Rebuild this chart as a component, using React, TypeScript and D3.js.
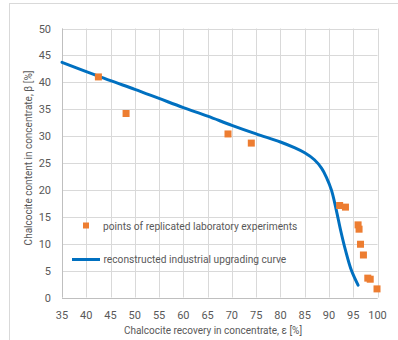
import { useEffect, useRef } from 'react'
import * as d3 from 'd3'

// laboratory experiment points (recovery %, content %)
const pointRecovery = [42.5, 48.2, 69.2, 74.0, 92.2, 93.4, 96.0, 96.2, 96.5, 97.1, 98.0, 98.5, 99.9]
const pointContent = [41.0, 34.2, 30.4, 28.7, 17.1, 16.8, 13.5, 12.7, 9.9, 7.9, 3.6, 3.4, 1.6]

// reconstructed industrial upgrading curve
const curveRecovery = [35, 40, 45, 50, 55, 60, 65, 70, 75, 80, 83, 85, 87, 88.5, 89.5, 90.5, 91.5, 92.4, 93.4, 94.6, 96.0]
const curveContent = [43.7, 42.0, 40.3, 38.7, 37.0, 35.3, 33.7, 32.0, 30.4, 28.9, 27.8, 26.9, 25.6, 24.0, 22.3, 20.0, 16.3, 12.5, 8.8, 5.1, 2.3]

const xTicks = [35, 40, 45, 50, 55, 60, 65, 70, 75, 80, 85, 90, 95, 100]
const yTicks = [0, 5, 10, 15, 20, 25, 30, 35, 40, 45, 50]

const legendLabels = ['points of replicated laboratory experiments', 'reconstructed industrial upgrading curve']

export default function App() {
  const svgRef = useRef<SVGSVGElement>(null)
  const width = 398
  const height = 340

  useEffect(() => {
    if (!svgRef.current) return
    const svg = d3.select(svgRef.current)
    svg.selectAll('*').remove()

    const font = 'Roboto, "Open Sans", sans-serif'
    const textColor = '#595959'
    const orange = '#ed7d31'
    const blue = '#0070c0'

    const x = d3.scaleLinear().domain([35, 100]).range([62, 377.5])
    const y = d3.scaleLinear().domain([0, 50]).range([297.5, 28.5])

    // chart frame
    svg.append('rect')
      .attr('x', 9.5).attr('y', 3.5)
      .attr('width', 420).attr('height', 360)
      .attr('fill', '#fff')
      .attr('stroke', '#d9d9d9')

    // gridlines
    const grid = svg.append('g').attr('stroke', '#d9d9d9').attr('stroke-width', 1)
    xTicks.forEach(t => {
      grid.append('line')
        .attr('x1', Math.round(x(t)) + 0.5).attr('x2', Math.round(x(t)) + 0.5)
        .attr('y1', y(50)).attr('y2', y(0))
    })
    yTicks.forEach(t => {
      grid.append('line')
        .attr('x1', x(35)).attr('x2', x(100))
        .attr('y1', Math.round(y(t)) + 0.5).attr('y2', Math.round(y(t)) + 0.5)
    })

    // axis lines
    svg.append('line')
      .attr('x1', Math.round(x(35)) + 0.5).attr('x2', Math.round(x(35)) + 0.5)
      .attr('y1', y(50)).attr('y2', y(0))
      .attr('stroke', '#bfbfbf')
    svg.append('line')
      .attr('x1', x(35)).attr('x2', x(100))
      .attr('y1', Math.round(y(0)) + 0.5).attr('y2', Math.round(y(0)) + 0.5)
      .attr('stroke', '#bfbfbf')

    // tick labels
    svg.append('g').selectAll('text')
      .data(xTicks)
      .join('text')
      .attr('x', d => x(d))
      .attr('y', 319)
      .attr('text-anchor', 'middle')
      .attr('font-family', font)
      .attr('font-size', 11)
      .attr('fill', textColor)
      .text(d => d)

    svg.append('g').selectAll('text')
      .data(yTicks)
      .join('text')
      .attr('x', 51)
      .attr('y', d => y(d) + 4)
      .attr('text-anchor', 'end')
      .attr('font-family', font)
      .attr('font-size', 11)
      .attr('fill', textColor)
      .text(d => d)

    // axis titles
    svg.append('text')
      .attr('x', 213).attr('y', 334)
      .attr('text-anchor', 'middle')
      .attr('font-family', font)
      .attr('font-size', 10)
      .attr('fill', textColor)
      .text('Chalcocite recovery in concentrate, ε [%]')

    svg.append('text')
      .attr('transform', 'translate(32,158) rotate(-90)')
      .attr('text-anchor', 'middle')
      .attr('font-family', font)
      .attr('font-size', 10)
      .attr('fill', textColor)
      .text('Chalcocite content in concentrate, β [%]')

    // curve
    const curveData = curveRecovery.map((r, i) => [r, curveContent[i]] as [number, number])
    const line = d3.line<[number, number]>()
      .x(d => x(d[0]))
      .y(d => y(d[1]))
      .curve(d3.curveCatmullRom.alpha(0.5))

    svg.append('path')
      .datum(curveData)
      .attr('fill', 'none')
      .attr('stroke', blue)
      .attr('stroke-width', 3)
      .attr('stroke-linecap', 'round')
      .attr('d', line)

    // points
    const pts = pointRecovery.map((r, i) => [r, pointContent[i]] as [number, number])
    svg.append('g').selectAll('rect')
      .data(pts)
      .join('rect')
      .attr('x', d => x(d[0]) - 3.5)
      .attr('y', d => y(d[1]) - 3.5)
      .attr('width', 7)
      .attr('height', 7)
      .attr('fill', orange)

    // legend
    const legend = svg.append('g')
    legend.append('rect')
      .attr('x', 83).attr('y', 222.5)
      .attr('width', 6).attr('height', 6)
      .attr('fill', orange)
    legend.append('text')
      .attr('x', 103).attr('y', 229.5)
      .attr('font-family', font)
      .attr('font-size', 10.2)
      .attr('fill', textColor)
      .text(legendLabels[0])
    legend.append('line')
      .attr('x1', 72).attr('x2', 100)
      .attr('y1', 259.5).attr('y2', 259.5)
      .attr('stroke', blue)
      .attr('stroke-width', 3)
    legend.append('text')
      .attr('x', 103.5).attr('y', 263)
      .attr('font-family', font)
      .attr('font-size', 10.2)
      .attr('fill', textColor)
      .text(legendLabels[1])
  }, [])

  return (
    <svg
      ref={svgRef}
      width={width}
      height={height}
      style={{ position: 'absolute', left: 0, top: 0, display: 'block' }}
    />
  )
}
